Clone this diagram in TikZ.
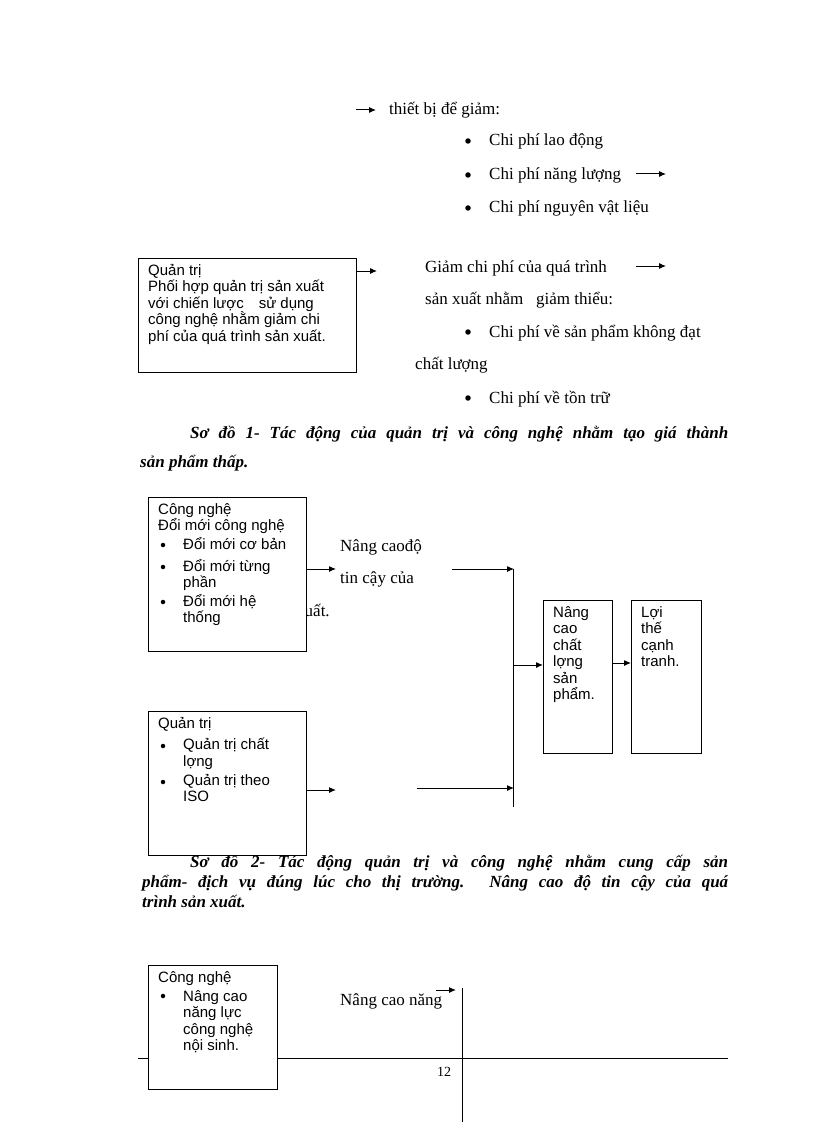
\documentclass[tikz,border=0pt]{standalone}
\usepackage{fontspec}
\setmainfont{Liberation Serif}
\newfontfamily\boxfont{Liberation Sans}
\usetikzlibrary{arrows.meta}
\newcommand{\jline}[2]{\parbox{#1}{\parfillskip=0pt\relax #2}}
\tikzset{
  x=1pt,y=-1pt,
  body/.style={anchor=base west,inner sep=0,font=\fontsize{17}{20}\selectfont},
  captext/.style={anchor=base west,inner sep=0,font=\fontsize{17}{20}\selectfont\bfseries\itshape},
  bx/.style={draw,line width=1pt,fill=white},
  bt/.style={anchor=north west,inner sep=0,align=left,font=\boxfont\fontsize{15}{16.5}\selectfont},
  ar/.style={-{Latex[length=7pt,width=6pt]},line width=1pt},
  ln/.style={line width=1pt},
  dot/.style={circle,fill,inner sep=0,minimum size=5.5pt}
}
\begin{document}
\begin{tikzpicture}
\useasboundingbox (0,0) rectangle (816,1123);
% top
\coordinate (a0) at (356,110); \coordinate (a1) at (376,110);
\draw[ar] (a0)--(a1);
\node[body] (t1) at (389,115) {thiết bị để giảm:};
\foreach \y/\t/\n in {141/Chi phí lao động/b1,175/Chi phí năng lượng/b2,208/Chi phí nguyên vật liệu/b3}{
  \node[dot] at (468,\y) {};
  \node[body] (\n) at (489,\y+5) {\t};}
\coordinate (c0) at (636,174); \coordinate (c1) at (666,174);
\draw[ar] (c0)--(c1);
% box 1
\draw[bx] (138,258) rectangle (356,372);
\node[bt] (q1) at (148,264) {Quản trị\\Phối hợp quản trị sản xuất\\với chiến lược\quad sử dụng\\công nghệ nhằm giảm chi\\phí của quá trình sản xuất.};
\coordinate (d0) at (357,271); \coordinate (d1) at (377,271);
\draw[ar] (d0)--(d1);
\node[body] (g1) at (425,272) {Giảm chi phí của quá trình};
\coordinate (e0) at (636,266); \coordinate (e1) at (666,266);
\draw[ar] (e0)--(e1);
\node[body] (g2) at (425,304) {sản xuất nhằm \ \ giảm thiểu:};
\node[dot] at (468,332) {};
\node[body] (g3) at (489,337) {Chi phí về sản phẩm không đạt};
\node[body] (g4) at (415,369) {chất lượng};
\node[dot] at (468,398) {};
\node[body] (g5) at (489,403) {Chi phí về tồn trữ};
\node[captext] (s1) at (190,438) {\jline{538pt}{Sơ đồ 1- Tác động của quản trị và công nghệ nhằm tạo giá thành}};
\node[captext] (s1b) at (140,467) {sản phẩm thấp.};
% diagram 2
\node[body] (n1) at (340,551) {Nâng caođộ};
\node[body] (n2) at (340,583) {tin cậy của};
\node[body] (n3) at (296,616) {xuất.};
\draw[bx] (148,497) rectangle (306,651);
\node[bt] (c) at (158,503) {Công nghệ\\Đổi mới công nghệ};
\foreach \y/\t in {537/Đổi mới cơ bản,559/Đổi mới từng\\phần,594/Đổi mới hệ\\thống}{
  \node[dot,minimum size=4.5pt] at (163,\y+8) {};
  \node[bt] at (183,\y) {\t};}
\coordinate (f0) at (306,569); \coordinate (f1) at (336,569);
\draw[ar] (f0)--(f1);
\coordinate (h0) at (452,569); \coordinate (h1) at (514,569);
\draw[ar] (h0)--(h1);
\coordinate (v0) at (513,569); \coordinate (v1) at (513,807);
\draw[ln] (v0)--(v1);
\draw[bx] (543,600) rectangle (612,753);
\node[bt] (nc) at (553,606) {Nâng\\cao\\chất\\lợng\\sản\\phẩm.};
\draw[bx] (631,600) rectangle (701,753);
\node[bt] (lt) at (641,606) {Lợi\\thế\\cạnh\\tranh.};
\coordinate (i0) at (513,665); \coordinate (i1) at (543,665);
\draw[ar] (i0)--(i1);
\coordinate (j0) at (612,663); \coordinate (j1) at (631,663);
\draw[ar] (j0)--(j1);
\node[captext] (s2a) at (190,867) {\jline{538pt}{Sơ đồ 2- Tác động quản trị và công nghệ nhằm cung cấp sản}};
\draw[bx] (148,711) rectangle (306,855);
\node[bt] (q2) at (158,717) {Quản trị};
\foreach \y/\t in {738/Quản trị chất\\lợng,774/Quản trị theo\\ISO}{
  \node[dot,minimum size=4.5pt] at (163,\y+8) {};
  \node[bt] at (183,\y) {\t};}
\coordinate (k0) at (306,790); \coordinate (k1) at (336,790);
\draw[ar] (k0)--(k1);
\coordinate (l0) at (417,788); \coordinate (l1) at (514,788);
\draw[ar] (l0)--(l1);
\node[captext] (s2b) at (142,887) {\jline{586pt}{phẩm- địch vụ đúng lúc cho thị trường. Nâng cao độ tin cậy của quá}};
\node[captext] (s2c) at (142,907) {trình sản xuất.};
% diagram 3
\draw[bx] (148,965) rectangle (277,1089);
\node[bt] (cn) at (158,971) {Công nghệ};
\node[dot,minimum size=4.5pt] at (163,996) {};
\node[bt] at (183,990) {Nâng cao\\năng lực\\công nghệ\\nội sinh.};
\node[body] (nn) at (340,1005) {Nâng cao năng};
\coordinate (m0) at (436,990); \coordinate (m1) at (456,990);
\draw[ar] (m0)--(m1);
\coordinate (w0) at (462,988); \coordinate (w1) at (462,1122);
\draw[ln] (w0)--(w1);
\coordinate (z0) at (138,1058); \coordinate (z1) at (728,1058);
\draw[line width=0.6pt] (z0)--(148,1058) (277,1058)--(z1);
\node[anchor=base,inner sep=0,font=\fontsize{14}{16}\selectfont] (pg) at (444,1076) {12};
\end{tikzpicture}
\end{document}
